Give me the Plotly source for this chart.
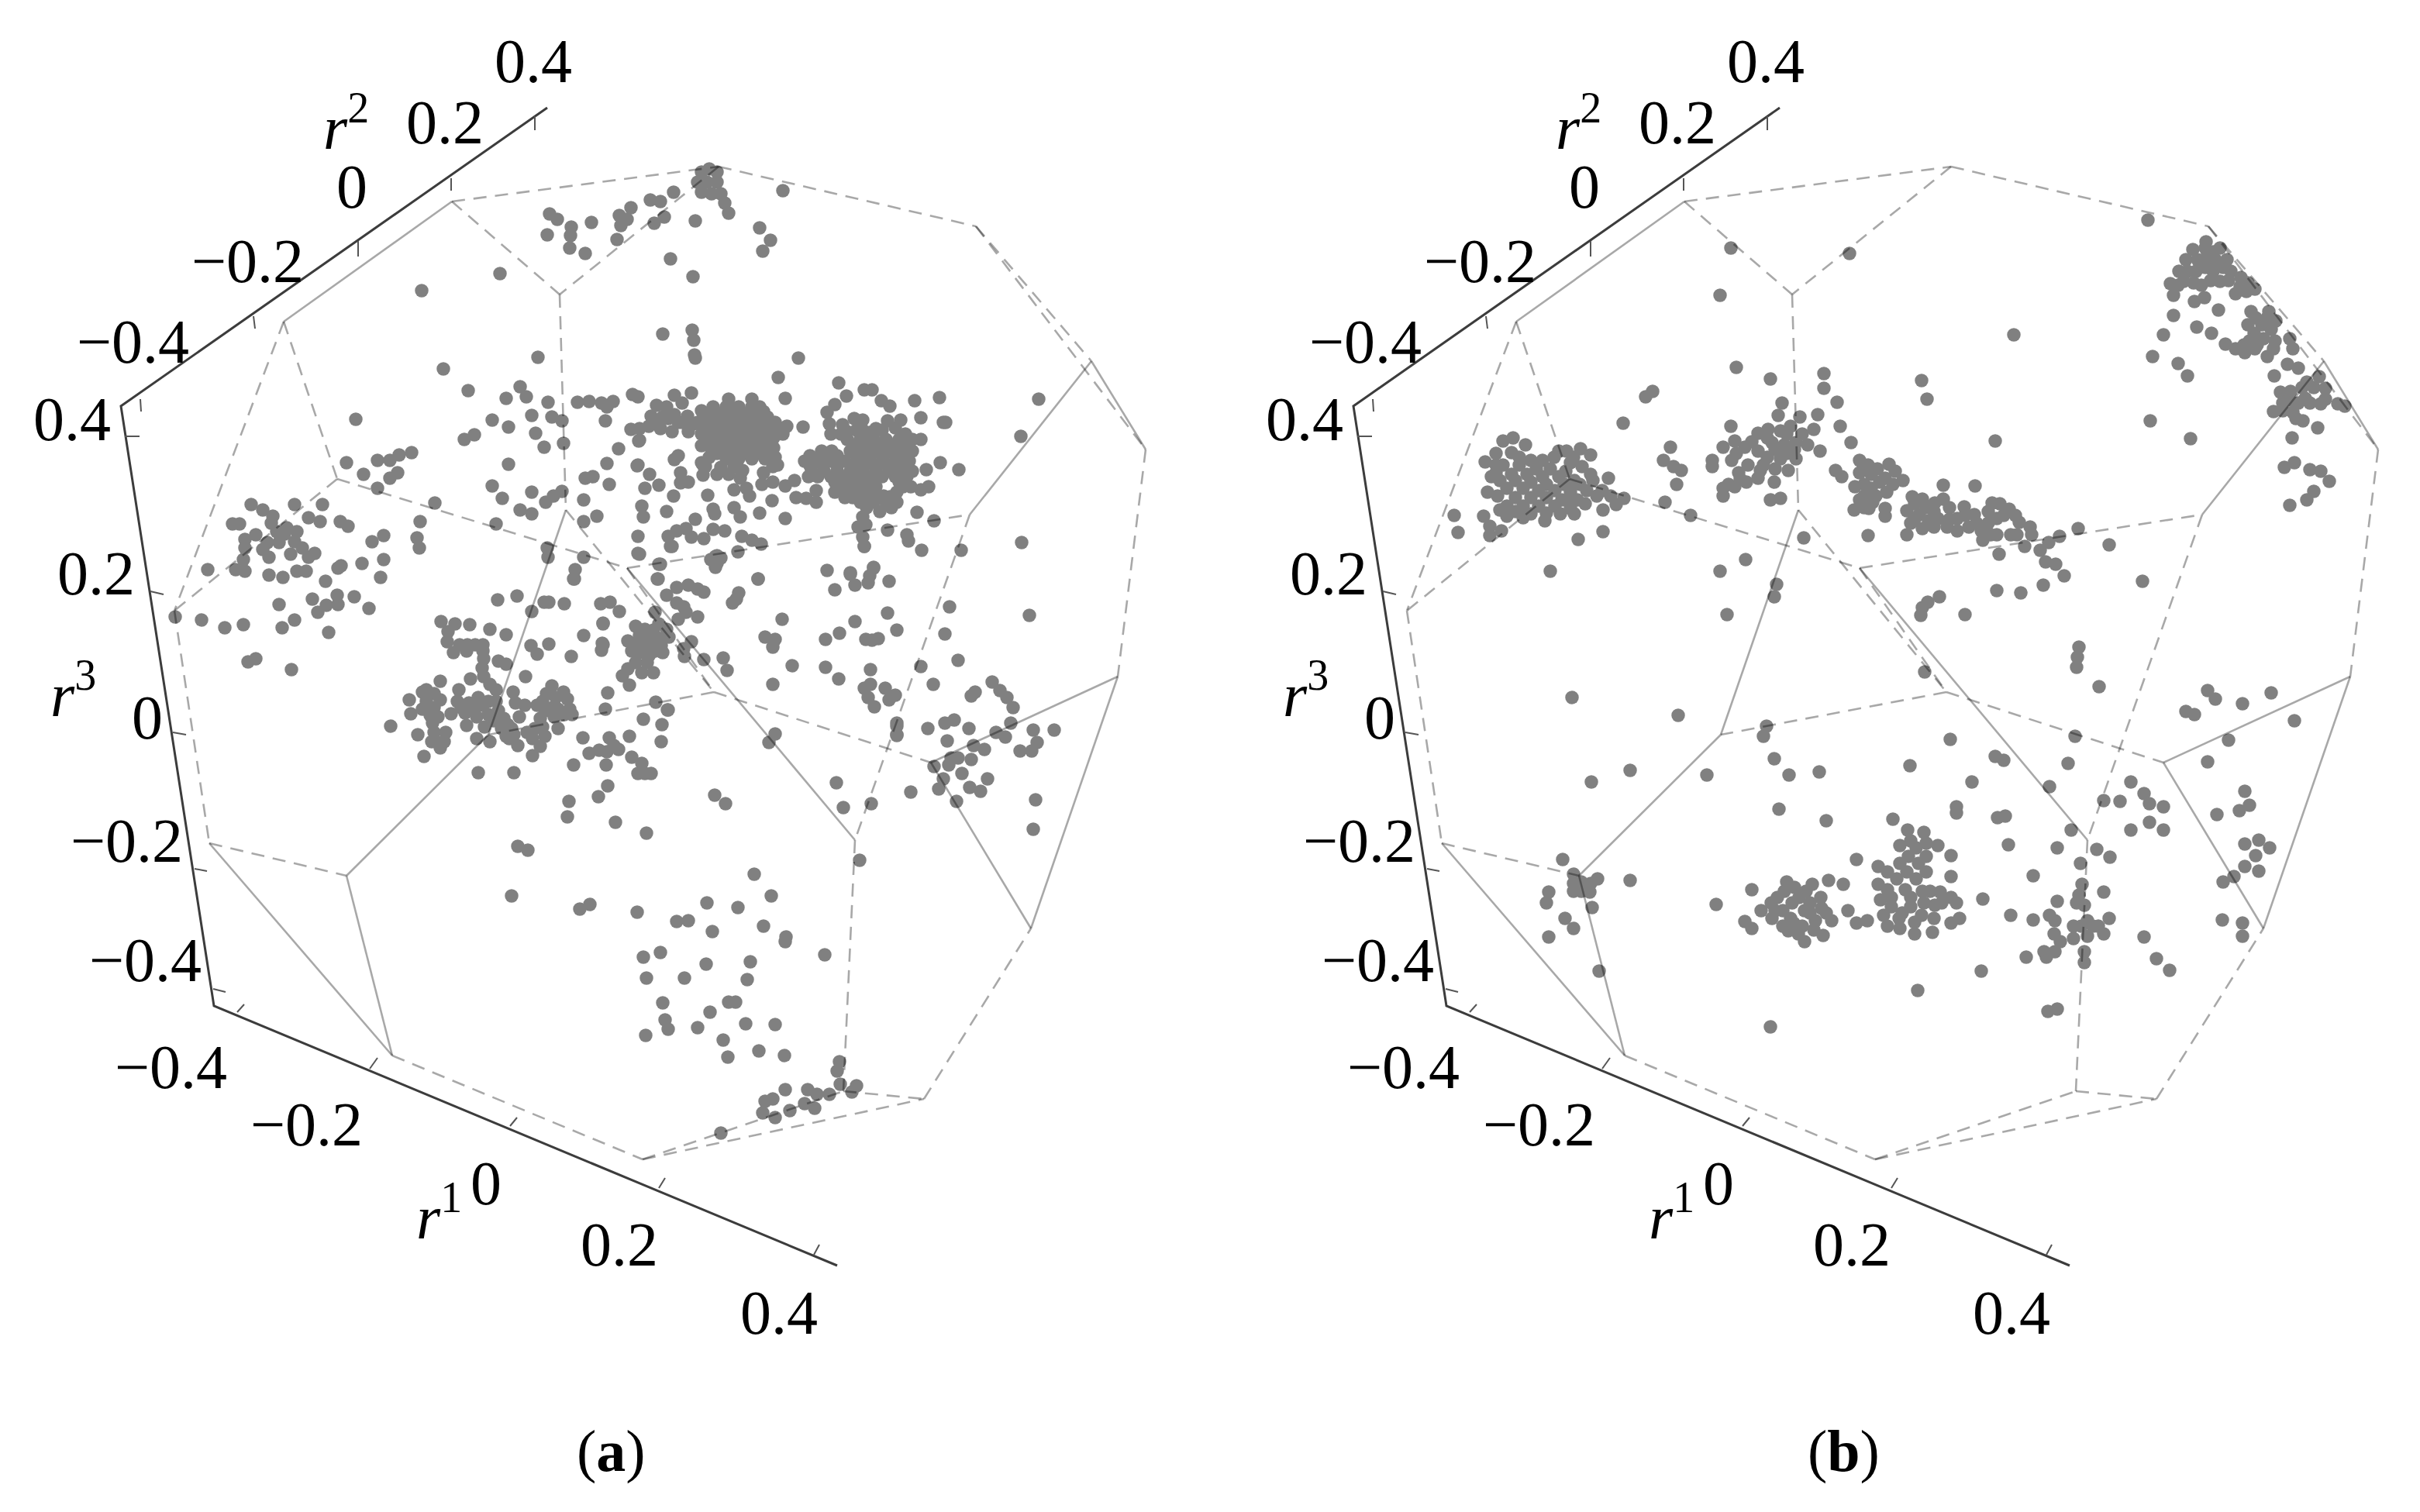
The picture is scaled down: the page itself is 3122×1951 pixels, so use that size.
import plotly.graph_objects as go

# panel (b) shows the same frame 1590 px further right
PANEL_SHIFT = 1590

points_a = [
    (709,276),(719,283),(706,303),(737,293),(736,304),(735,320),(755,327),(763,287),(799,278),(814,268),(801,291),(796,309),
    (809,283),(839,258),(852,260),(869,248),(857,280),(844,288),(897,285),(865,334),(894,357),(855,431),(893,426),(895,439),
    (896,458),(645,353),(544,375),(905,222),(915,218),(925,222),(900,235),(912,235),(925,235),(905,248),(918,250),(930,250),
    (935,262),(1010,246),(980,294),(994,310),(984,324),(940,275),
    (572,476),(694,461),(604,504),(459,541),(653,514),(671,499),(679,512),(707,519),(635,542),(656,551),(686,536),(712,538),
    (725,543),(691,559),(702,577),(727,572),(612,561),(599,567),(656,599),(745,519),(760,518),(776,520),(791,518),(781,543),
    (816,509),(783,525),(783,598),(798,579),(822,601),(824,569),(814,554),
    (447,597),(469,612),(487,594),(503,594),(515,587),(531,584),(513,610),(503,617),(487,630),(561,649),(635,627),(648,643),
    (686,635),(704,648),(714,640),(725,634),(671,658),(686,663),(640,676),(755,617),(765,615),(753,645),(786,625),(753,673),
    (770,666),(706,707),(707,719),(742,735),(753,719),(740,747),(542,673),(538,694),(541,707),(495,691),(480,699),(495,722),
    (467,727),(436,733),(491,745),
    (324,651),(339,658),(352,666),(380,651),(416,651),(309,676),(300,676),(357,686),(370,681),(383,686),(398,668),(413,673),
    (439,673),(449,679),(316,696),(316,707),(339,709),(347,719),(367,689),(380,699),(390,707),(406,714),(398,719),(314,722),
    (304,735),(316,737),(268,735),(347,742),(365,745),(383,737),(395,737),(403,773),(421,781),(435,768),(457,770),(476,785),
    (260,800),(290,810),(314,806),(360,780),(420,750),(440,730),(436,780),(410,790),(380,800),(364,810),(330,850),(376,864),
    (320,854),(424,816),(226,796),
    (642,774),(667,769),(686,789),(702,777),(708,777),(728,779),(775,779),(787,777),(799,789),(569,802),(587,805),(606,806),
    (578,815),(577,828),(585,842),(593,832),(603,832),(613,832),(623,832),(602,840),(623,840),(632,812),(653,819),(685,833),
    (693,844),(708,831),(737,847),(753,820),(778,804),(778,832),(776,839),(624,850),(622,862),(624,873),(643,853),(653,857),
    (607,876),(678,873),(632,883),(640,890),(568,879),(550,890),(545,893),(560,895),(528,903),(592,890),(568,903),(530,921),
    (560,913),(555,923),(558,933),(504,937),(539,948),(557,957),(567,958),(573,957),(568,965),(547,976),(582,921),(595,913),
    (605,907),(617,900),(613,913),(623,910),(602,936),(630,922),(637,930),(643,917),(650,927),(647,940),(653,950),(662,893),
    (665,907),(677,910),(615,953),(632,957),(663,948),(668,962),(657,953),(693,910),(703,917),(697,927),(712,885),(727,893),
    (732,902),(717,900),(713,913),(728,922),(738,922),(720,940),(687,953),(703,950),(697,963),(687,975),(752,952),(781,915),
    (784,894),(830,928),(846,906),(862,916),(854,935),(853,957),(812,950),(786,952),(792,962),(798,967),(760,972),(773,968),
    (783,970),(782,987),(740,987),(815,977),(828,985),(823,998),(832,998),(840,998),(617,997),(663,997),(784,1014),(772,1028),
    (734,1034),(732,1054),(794,1061),(834,1075),(668,1092),(681,1097),(848,747),(741,747),
    (823,714),(867,705),(850,728),(849,747),(923,718),(917,722),(930,720),(923,732),(873,758),(888,755),(900,760),(908,764),
    (860,768),(873,778),(882,783),(885,790),(875,799),(900,796),(845,790),(778,805),(777,830),(820,808),(832,812),(843,813),
    (860,812),(863,822),(848,823),(840,830),(853,833),(855,842),(810,827),(815,840),(825,842),(838,845),(835,855),(820,855),
    (810,863),(828,868),(843,868),(803,872),(812,884),(882,837),(883,847),(892,828),(908,851),(933,849),(938,865),(861,916),
    (945,778),(953,765),(950,773),(978,747),(1009,799),(987,822),(1000,825),(997,835),(1022,859),(997,883),(1067,736),(1097,741),
    (1103,755),(1120,752),(1127,733),(1077,761),(1147,750),(1115,705),(1145,791),(1103,802),(1083,817),(1065,825),(1117,825),
    (1125,826),(1133,824),(1157,813),(1065,861),(1082,876),(1123,864),(1115,888),(1120,900),(1128,912),(1123,883),(1142,888),
    (1147,903),(1155,897),(1000,947),(992,958),(1157,937),(1157,948),(1079,1010),(1088,1042),(1124,1037),(922,1026),(936,1037),
    (940,515),(970,515),(920,525),(937,525),(953,525),(970,525),(980,525),(910,538),(927,538),(943,538),(960,538),(977,538),
    (990,538),(910,552),(927,552),(943,552),(960,552),(977,552),(993,552),(1005,552),(917,565),(933,565),(950,565),(967,565),
    (983,565),(998,565),(917,578),(935,578),(952,578),(968,578),(985,578),(998,578),(937,592),(953,592),(970,592),(987,592),
    (905,597),(910,602),(930,603),(947,603),(997,602),(1003,600),(870,510),(892,507),(847,523),(880,520),(840,537),(855,538),
    (870,535),(887,537),(895,547),(837,550),(852,553),(867,557),(888,557),(823,512),(825,553),(825,568),(823,600),(875,588),
    (870,593),(838,612),(850,626),(832,630),(878,610),(878,623),(888,622),(869,640),(907,600),(907,613),(913,639),(955,617),
    (947,632),(963,630),(967,640),(983,625),(997,622),(1013,627),(1025,620),(996,646),(1027,642),(1040,643),(1053,633),(1053,648),
    (1004,487),(1013,514),(1036,551),(897,462),(1030,462),(828,653),(830,667),(860,660),(897,670),(920,657),(922,663),(947,655),
    (955,667),(980,662),(1013,669),(823,692),(825,715),(862,692),(865,705),(873,685),(885,682),(892,693),(908,695),(920,683),
    (935,685),(957,692),(970,697),(982,702),(952,712),(925,717),(925,727),(852,728),(978,747),
    (1082,494),(1092,511),(1077,522),(1067,532),(1115,503),(1125,503),(1137,517),(1148,524),(1180,517),(1212,513),(1188,539),
    (1217,545),(1188,567),(1213,597),(1195,606),(1070,547),(1072,560),(1087,548),(1102,540),(1113,542),(1093,557),(1113,555),
    (1130,553),(1145,543),(1162,542),(1168,560),(1093,567),(1110,567),(1127,567),(1143,567),(1160,567),(1177,567),(1060,582),
    (1073,582),(1097,582),(1113,582),(1130,582),(1147,582),(1163,582),(1177,582),(1038,595),(1053,595),(1070,595),(1090,595),
    (1107,595),(1123,595),(1140,595),(1157,595),(1173,595),(1047,608),(1063,608),(1080,608),(1097,608),(1113,608),(1130,608),
    (1147,608),(1163,608),(1177,608),(1043,615),(1077,622),(1093,622),(1110,622),(1127,622),(1160,622),(1077,635),(1090,635),
    (1107,635),(1123,635),(1157,635),(1175,628),(1188,632),(1198,628),(1090,642),(1110,648),(1127,648),(1143,648),(1157,648),
    (1135,660),(1113,667),(1107,680),(1117,677),(1113,693),(1115,705),(1145,684),(1183,661),(1205,672),(1170,690),(1172,698),
    (1189,710),(1097,739),(1127,732),(1122,743),(1340,515),(1317,563),(1318,700),(1240,710),(1237,606),(1220,545),
    (1328,794),(1225,783),(1219,818),(1236,852),(1188,860),(1204,883),(1280,880),(1290,891),(1299,900),(1307,913),(1258,893),
    (1253,898),(1360,942),(1333,942),(1338,958),(1331,969),(1316,969),(1304,933),(1285,945),(1297,951),(1231,929),(1219,933),
    (1197,940),(1250,940),(1222,956),(1256,962),(1270,967),(1227,978),(1236,978),(1253,980),(1224,987),(1205,989),(1241,998),
    (1217,1005),(1211,1018),(1251,1016),(1265,1021),(1274,1005),(1234,1034),(1175,1022),(1336,1032),(1333,1070),(1157,933),(1157,949),
    (1109,1110),(660,1156),(748,1173),(761,1167),(822,1177),(873,1189),(888,1188),(912,1165),(952,1171),(973,1128),(995,1156),
    (985,1195),(1014,1209),(1013,1215),(919,1202),(852,1229),(830,1235),(834,1262),(883,1262),(911,1244),(968,1241),(964,1264),
    (1064,1232),(855,1294),(858,1316),(862,1328),(833,1336),(900,1326),(916,1306),(940,1293),(949,1293),(962,1321),(1000,1322),
    (933,1342),(939,1364),(979,1356),(1012,1362),(1083,1370),(1080,1382),(987,1421),(997,1418),(984,1436),(1000,1442),(1013,1406),
    (1019,1433),(1042,1406),(1038,1424),(1054,1412),(1051,1430),(1070,1412),(1084,1399),(1105,1401),(1099,1409),(930,1462),
]

# the solid knots of (a), where single dots can't be told apart
dense_a = [
    (918,531),(935,531),(951,531),(968,531),(985,531),(918,545),(935,545),(951,545),(968,545),(985,545),(1000,545),(925,558),
    (942,558),(958,558),(975,558),(990,558),(925,571),(942,571),(960,571),(976,571),(992,571),(925,585),(945,585),(961,585),
    (978,585),(992,585),(1101,574),(1118,574),(1135,574),(1151,574),(1168,574),(1045,588),(1062,588),(1080,588),(1105,588),
    (1121,588),(1138,588),(1155,588),(1170,588),(1045,601),(1062,601),(1080,601),(1098,601),(1115,601),(1132,601),(1148,601),
    (1165,601),(1055,615),(1072,615),(1088,615),(1105,615),(1120,615),(1138,615),(1155,615),(1170,615),(1085,628),(1100,628),
    (1115,628),(1130,628),(1165,628),(1115,641),(1130,641),(1148,641),
    (1085,560),(1105,555),(1122,558),(1138,555),(1155,552),(1100,642),(1140,640),(1118,655),(1150,655),
    (860,525),(875,545),(850,545),(862,540),(880,545),(905,560),(905,575),(900,545),(905,530),(958,607),(940,612),(925,612),
    (985,610),(915,590),(1010,560),(1015,550),(1000,590),
    (550,905),(565,925),(545,915),(630,905),(600,920),(615,925),(625,938),(640,905),(655,935),(670,925),(680,945),(660,940),
    (690,940),(700,905),(720,915),(705,895),(735,915),(715,925),(700,938),(575,945),(560,945),(590,905),
    (825,820),(835,825),(850,805),(830,835),(820,830),(845,840),
    (345,700),(360,700),(375,715),(330,690),(350,675),
]

points_b = [
    (643,320),(796,327),(629,381),(650,474),(694,489),(763,482),(763,501),(780,519),(889,491),(896,515),(542,505),(533,512),(504,546),
    (349,569),(362,565),(378,574),(326,596),(360,584),(349,600),(334,615),(329,635),(360,612),(385,594),(400,594),(421,582),(431,582),
    (449,579),(462,587),(436,597),(451,602),(462,612),(380,612),(400,615),(421,615),(441,620),(354,630),(375,630),(395,633),(416,633),
    (436,635),(457,633),(485,617),(477,633),(505,643),(495,651),(354,653),(375,653),(395,653),(416,653),(436,656),(354,666),(375,668),
    (403,672),(423,663),(441,663),(478,658),(324,666),(332,679),(347,685),(332,691),(286,665),(291,687),(446,696),(478,686),(410,737),
    (565,577),(556,594),(569,602),(579,607),(573,625),(558,648),(591,665),
    (643,550),(633,577),(648,569),(619,594),(619,602),(644,594),(653,610),(709,520),(704,536),(732,538),(755,535),(750,554),(784,550),
    (798,571),(758,582),(678,559),(691,554),(707,556),(661,577),(678,582),(696,571),(712,574),(727,571),(742,574),(681,607),(678,617),
    (699,622),(717,607),(727,592),(707,592),(663,622),(648,628),(633,630),(633,640),(694,645),(707,643),(737,694),(662,722),(629,737),
    (702,754),(699,770),(638,793),(778,607),(786,615),
    (809,594),(847,599),(809,610),(824,612),(842,617),(865,620),(803,628),(824,630),(844,635),(809,645),(826,648),(842,656),(802,658),
    (821,656),(842,666),(820,691),(877,641),(870,659),(870,690),(890,644),(886,664),(890,682),(906,649),(917,626),(917,644),(910,669),
    (922,680),(935,685),(944,654),(935,669),(957,664),(958,627),(980,649),(966,685),(1002,657),(986,669),(968,697),(986,690),(1004,690),
    (989,715),(1015,674),(1029,680),(1022,705),(1031,690),(1042,710),(1053,700),(1067,692),(1091,682),(1049,725),(1062,728),(1073,743),
    (1131,703),(1174,750),(1046,755),(1017,765),(986,762),(912,770),(897,777),(890,784),(888,794),(945,793),(1092,835),(1090,848),
    (1089,861),(1118,886),(893,867),(1008,432),(984,569),(1181,284),
    (1256,312),(1239,322),(1274,320),(1230,335),(1256,333),(1283,335),(1221,350),(1243,350),(1265,350),(1288,350),(1301,358),(1210,366),
    (1227,363),(1250,368),(1274,363),(1319,373),(1294,379),(1308,376),(1214,381),(1241,389),(1254,384),(1272,400),(1214,407),(1201,432),
    (1244,422),(1263,430),(1187,460),(1220,469),(1232,485),(1314,402),(1337,402),(1310,419),(1328,419),(1346,414),(1312,440),(1330,437),
    (1281,444),(1294,450),(1306,455),(1319,450),(1335,460),(1343,450),(1364,437),(1368,450),(1361,470),(1375,475),(1344,485),(1386,493),
    (1402,486),(1410,501),(1352,506),(1364,516),(1343,531),(1368,532),(1384,514),(1404,521),(1426,521),(1435,524),(1381,543),(1400,552),
    (1367,565),(1357,603),(1370,597),(1390,606),(1404,608),(1415,621),(1395,634),(1386,645),(1364,652),(1184,543),(1236,566),
    (1258,891),(1268,902),(1230,918),(1241,922),(1303,908),(1340,894),(1370,930),(1285,955),(1258,983),(1087,950),(1078,985),(926,954),
    (984,976),(995,981),(874,988),(438,900),(575,923),(463,1009),(513,994),(612,1000),(426,1109),(440,1128),(450,1138),(471,1134),
    (461,1151),(464,1171),(408,1151),(405,1165),(429,1185),(440,1198),(408,1209),(513,1136),(473,1253),(689,937),(685,950),(699,979),
    (718,1000),(757,996),(705,1044),(766,1059),(954,1009),(1054,1015),(934,1041),(934,1049),(987,1055),(997,1053),(1001,1090),(1064,1094),
    (1082,1071),(1115,1096),(1132,1106),(1094,1114),(1033,1130),(1124,1151),(1092,1155),(1096,1141),(1089,1165),(852,1057),
    (871,1071),(892,1074),(861,1091),(882,1094),(910,1091),(927,1104),(861,1114),(885,1114),(927,1131),(833,1118),(833,1141),(857,1134),
    (882,1134),(850,1158),(875,1158),(836,1161),(913,1151),(927,1158),(906,1168),(892,1165),(934,1165),(840,1181),(864,1178),(889,1181),
    (861,1198),(880,1205),(903,1203),(927,1191),(938,1185),(968,1160),(805,1109),(794,1175),(805,1191),(819,1188),(769,1136),(788,1141),
    (715,1138),(748,1141),(703,1158),(731,1158),(759,1158),(682,1175),(710,1175),(738,1175),(766,1178),(696,1185),(724,1191),(752,1188),
    (773,1188),(717,1201),(738,1215),(762,1207),(670,1148),(624,1167),(661,1189),(670,1198),(1004,1181),(966,1253),(884,1278),(694,1325),
    (1033,1187),(1054,1181),(1064,1163),(1061,1188),(1099,1168),(1131,1185),(1103,1188),(1117,1195),(1124,1205),(1085,1211),(1068,1215),
    (1103,1208),(1061,1228),(1047,1228),(1050,1235),(1024,1235),(1099,1228),(1099,1242),(1064,1302),(1052,1305),(1176,1209),(1192,1237),
    (1209,1252),(1145,1034),(1124,1033),(1159,1009),(1176,1024),(1183,1037),(1201,1041),(1183,1061),(1201,1071),(1159,1071),(1306,1021),
    (1312,1039),(1299,1046),(1270,1051),(1306,1089),(1324,1084),(1338,1094),(1320,1104),(1306,1118),(1324,1124),(1292,1131),(1278,1138),
    (1277,1187),(1303,1191),(1303,1208),
]

dense_b = [
    (340,585),(370,590),(340,600),(370,600),(392,605),(410,605),(430,608),(345,620),(365,620),(385,622),(405,625),(428,625),(448,625),
    (342,640),(365,642),(385,642),(405,642),(425,645),(445,645),(465,620),(470,640),(488,640),(345,658),(365,660),(385,663),(405,662),
    (430,645),(455,650),(340,610),(415,590),(440,590),
    (820,600),(832,605),(815,625),(835,622),(830,640),(815,640),(852,625),(855,608),(815,655),
    (880,650),(880,670),(895,655),(898,672),(905,660),(925,655),(925,670),(945,665),(950,680),(960,675),(975,660),(975,675),(990,650),
    (995,665),(1010,665),(1012,690),(905,680),(875,675),(978,690),
    (690,565),(700,580),(715,560),(715,585),(725,580),(690,590),(670,570),(685,600),(665,600),(650,585),(640,625),(655,618),(700,605),
    (735,560),(720,550),
    (1245,335),(1265,325),(1232,350),(1255,345),(1278,345),(1240,365),(1262,362),(1285,362),(1220,368),(1300,370),(1255,320),(1268,335),
    (1310,365),(1320,410),(1335,410),(1318,430),(1340,425),(1322,445),(1345,440),(1305,445),
    (1380,500),(1365,505),(1395,500),(1375,520),(1390,520),(1355,520),(1355,530),(1410,515),(1372,540),
    (875,1085),(895,1088),(872,1105),(895,1105),(845,1125),(870,1125),(895,1125),(845,1148),(868,1148),(890,1150),(850,1170),(875,1170),
    (880,1190),(860,1185),(905,1185),(845,1195),(900,1150),(915,1165),
    (725,1145),(712,1150),(740,1150),(722,1165),(745,1165),(695,1165),(720,1185),(735,1195),(710,1195),(750,1200),(745,1178),(760,1172),
    (730,1205),(700,1175),
    (1095,1195),(1110,1195),(1085,1195),(1060,1205),(440,1140),(450,1150),(462,1140),(440,1150),
]

axis_line = [(706,139),(156,524),(276,1298),(1080,1633)]
tick_marks = [
    ((181,515),(182,531)),((327,408),(329,424)),((462,311),(462,331)),((582,230),(582,246)),((690,150),(690,168)),
    ((161,563),(180,563)),((194,763),(211,767)),((223,945),(240,948)),((251,1121),(267,1124)),((275,1276),(291,1280)),
    ((306,1306),(315,1296)),((477,1379),(487,1365)),((658,1453),(667,1442)),((850,1533),(858,1520)),((1050,1619),(1057,1606)),
]

# polyhedron corners
corners = {
    'a': (583,260), 'b': (366,415), 'c': (927,215), 'd': (722,380), 'e': (435,618), 'f': (730,658),
    'g': (225,788), 'h': (1259,292), 'i': (1408,466), 'j': (1478,580), 'k': (1251,664), 'l': (1442,873),
    'm': (1201,984), 'n': (1103,1084), 'o': (921,893), 'p': (809,733), 'q': (630,948), 'r': (447,1130),
    's': (270,1088), 't': (506,1362), 'u': (829,1496), 'v': (1088,1408), 'w': (1192,1418), 'x': (1330,1198),
}
solid_edges = ['ab','fq','qr','rt','st','pn','mx','lx','lm','ik','ij']
dashed_edges = ['ac','ad','cd','df','be','bg','eg','ep','pk','po','fo','oq','om','gs','sr','tu','uv','uw','vw','nv','kn','wx','ch','hi','hj','jl']

# text: label, x, y
tick_labels = [
    ('0.4',688,79),('0.2',574,158),('0',454,241),('\u22120.2',319,337),('\u22120.4',171,441),
    ('0.4',93,541),('0.2',124,740),('0',190,926),('\u22120.2',163,1085),('\u22120.4',187,1239),
    ('\u22120.4',220,1377),('\u22120.2',395,1451),('0',627,1527),('0.2',799,1606),('0.4',1005,1694),
]
axis_titles = [('<i>r</i><sup>2</sup>',446,158),('<i>r</i><sup>3</sup>',94,890),('<i>r</i><sup>1</sup>',566,1564)]
panels = [('x','(<b>a</b>)',points_a + dense_a),('x2','(<b>b</b>)',points_b + dense_b)]
caption_pos = (788,1872)

FONT = 'Liberation Serif'
DOT_GREY = '#808080'
EDGE = 'rgba(0,0,0,0.34)'


def edge_xy(edges):
    xs, ys = [], []
    for e in edges:
        for c in e:
            xs.append(corners[c][0])
            ys.append(corners[c][1])
        xs.append(None)
        ys.append(None)
    return xs, ys


fig = go.Figure()
annotations = []
for xref, caption, pts in panels:
    fig.add_trace(go.Scatter(
        x = [p[0] for p in pts], y = [p[1] for p in pts],
        xaxis = xref, yaxis = 'y', mode = 'markers',
        marker = dict(size=17.5, color=DOT_GREY, line=dict(width=0))
    ))
    sx, sy = edge_xy(solid_edges)
    fig.add_trace(go.Scatter(x=sx, y=sy, xaxis=xref, yaxis='y', mode='lines',
                             line=dict(color=EDGE, width=2.6)))
    dx, dy = edge_xy(dashed_edges)
    fig.add_trace(go.Scatter(x=dx, y=dy, xaxis=xref, yaxis='y', mode='lines',
                             line=dict(color=EDGE, width=2.6, dash='17px,11px')))
    fig.add_trace(go.Scatter(x=[p[0] for p in axis_line], y=[p[1] for p in axis_line],
                             xaxis=xref, yaxis='y', mode='lines',
                             line=dict(color='#3c3c3c', width=3)))
    tx, ty = [], []
    for p0, p1 in tick_marks:
        tx += [p0[0], p1[0], None]
        ty += [p0[1], p1[1], None]
    fig.add_trace(go.Scatter(x=tx, y=ty, xaxis=xref, yaxis='y', mode='lines',
                             line=dict(color='#555555', width=2)))
    for text, x, y in tick_labels + axis_titles + [(caption, caption_pos[0], caption_pos[1])]:
        annotations.append(dict(
            text=text, x=x, y=y, xref=xref, yref='y', showarrow=False,
            xanchor='center', yanchor='middle',
            font=dict(family=FONT, size=80 if text[0] != '(' else 76, color='black')
        ))

hidden = dict(visible=False, showgrid=False, zeroline=False)
fig.update_layout(
    width = 3122,
    height = 1951,
    margin = dict(l=0, r=0, t=0, b=0),
    paper_bgcolor = 'white',
    plot_bgcolor = 'white',
    showlegend = False,
    annotations = annotations,
    xaxis = dict(domain=[0, 0.5], range=[0, 1561], **hidden),
    xaxis2 = dict(domain=[0.5, 1], range=[1561 - PANEL_SHIFT, 3122 - PANEL_SHIFT], **hidden),
    yaxis = dict(domain=[0, 1], range=[1951, 0], **hidden),
)
fig.write_html('out.html', post_script="document.body.style.margin='0';", config={'displayModeBar': False})
